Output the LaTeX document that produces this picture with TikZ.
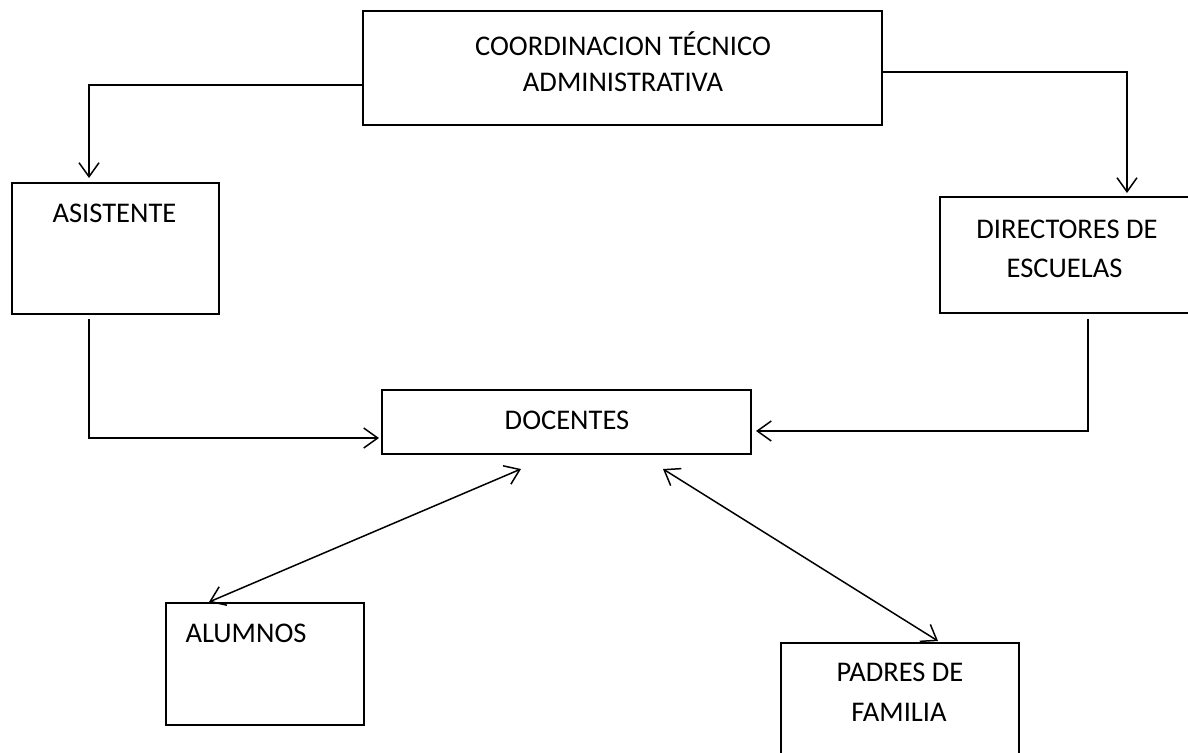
\documentclass[tikz,border=0pt]{standalone}
\usepackage{fontspec}
\setmainfont{Carlito}
\usetikzlibrary{arrows.meta}
\begin{document}
\begin{tikzpicture}[x=1pt,y=-1pt,
  box/.style={draw, line width=1.5pt, inner sep=0pt, outer sep=0pt},
  lbl/.style={inner sep=0pt, font=\fontsize{28.5}{34}\selectfont, text height=18pt, text depth=0pt},
  conn/.style={line width=1.5pt, -{Straight Barb[length=14pt,width=20pt,line width=1.5pt]}},
  both/.style={line width=1.5pt, {Straight Barb[length=14pt,width=20pt,line width=1.5pt]}-{Straight Barb[length=14pt,width=20pt,line width=1.5pt]}}]
\useasboundingbox (0,0) rectangle (1188,752);
\clip (0,0) rectangle (1188,752);
\fill[white] (0,0) rectangle (1188,752);
% boxes
\node[box, minimum width=519pt, minimum height=114pt] (coord) at (622.5,68) {};
\node[box, minimum width=207pt, minimum height=131pt] (asist) at (115.5,248.5) {};
\node[box, minimum width=260pt, minimum height=116pt] (direct) at (1070,255) {};
\node[box, minimum width=369pt, minimum height=64pt] (docen) at (566.5,422) {};
\node[box, minimum width=198pt, minimum height=122pt] (alum) at (265,664) {};
\node[box, minimum width=238pt, minimum height=157pt] (padres) at (900,721.5) {};
% labels
\node[lbl] (tcoord1) at (623,47) {COORDINACION TÉCNICO};
\node[lbl] (tcoord2) at (623,82) {ADMINISTRATIVA};
\node[lbl] (tasist) at (114.5,213) {ASISTENTE};
\node[lbl] (tdirect1) at (1067,229) {DIRECTORES DE};
\node[lbl] (tdirect2) at (1064.5,268) {ESCUELAS};
\node[lbl] (tdocen) at (567,420) {DOCENTES};
\node[lbl] (talum) at (246,633) {ALUMNOS};
\node[lbl] (tpadres1) at (900,672) {PADRES DE};
\node[lbl] (tpadres2) at (899,712) {FAMILIA};
% connectors
\draw[conn] ([yshift=-17pt]coord.west) -| ([xshift=-26.5pt,yshift=5pt]asist.north);
\draw[conn] ([yshift=-4pt]coord.east) -| ([xshift=57pt,yshift=4pt]direct.north);
\draw[conn] ([xshift=-26.5pt,yshift=-5pt]asist.south) |- ([xshift=-3pt,yshift=-16pt]docen.west);
\draw[conn] ([xshift=18pt,yshift=-6pt]direct.south) |- ([xshift=5pt,yshift=-9pt]docen.east);
\draw[both] ([xshift=-45.5pt,yshift=-15pt]docen.south) -- ([xshift=-56pt,yshift=1pt]alum.north);
\draw[both] ([xshift=96.5pt,yshift=-15pt]docen.south) -- ([xshift=38pt,yshift=2pt]padres.north);
\end{tikzpicture}
\end{document}
